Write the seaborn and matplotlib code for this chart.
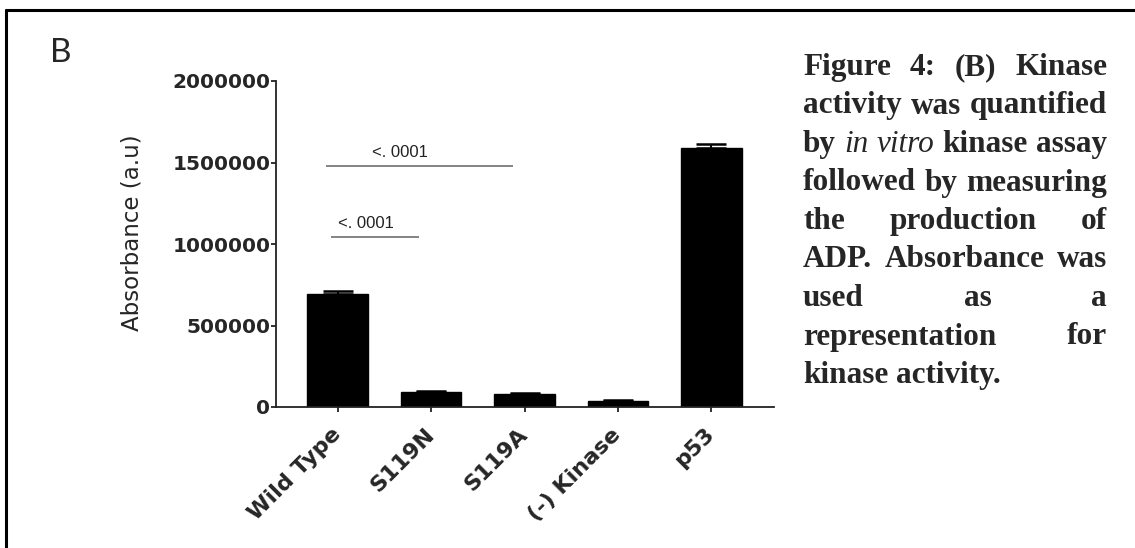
import numpy as np
import pandas as pd
import matplotlib
matplotlib.use("Agg")
import matplotlib.pyplot as plt
from matplotlib.lines import Line2D
import seaborn as sns

# values
samples = ["Wild Type", "S119N", "S119A", "(-) Kinase", "p53"]
absorbance = [693000, 90000, 81000, 36000, 1590000]
sem = [19000, 6000, 6000, 10000, 26000]

# significance bars: (left, right, height, label position, label)
sig_left = [-0.12, -0.07]
sig_right = [1.88, 0.87]
sig_height = [1480000, 1045000]
sig_text_x = [0.67, 0.30]
sig_label = ["<. 0001", "<. 0001"]

yticks = [0, 500000, 1000000, 1500000, 2000000]

caption = [
    [("Figure", "b"), ("4:", "b"), ("(B)", "b"), ("Kinase", "b")],
    [("activity", "b"), ("was", "b"), ("quantified", "b")],
    [("by", "b"), ("in", "i"), ("vitro", "i"), ("kinase", "b"), ("assay", "b")],
    [("followed", "b"), ("by", "b"), ("measuring", "b")],
    [("the", "b"), ("production", "b"), ("of", "b")],
    [("ADP.", "b"), ("Absorbance", "b"), ("was", "b")],
    [("used", "b"), ("as", "b"), ("a", "b")],
    [("representation", "b"), ("for", "b")],
    [("kinase", "b"), ("activity.", "b")],
]

df = pd.DataFrame({"sample": samples, "absorbance": absorbance, "sem": sem})

sns.set_style("ticks")
plt.rcParams["font.family"] = ["DejaVu Sans"]

W, H = 1135, 548
fig = plt.figure(figsize=(W / 100, H / 100), dpi=100)
ax = fig.add_axes([276 / W, 1 - 407 / H, (774 - 276) / W, (407 - 81) / H])

sns.barplot(data=df, x="sample", y="absorbance", color="black", saturation=1,
            width=0.65, errorbar=None, edgecolor="black", ax=ax)
ax.errorbar(np.arange(len(df)), df["absorbance"], yerr=[np.zeros(len(df)), df["sem"]],
            fmt="none", ecolor="black", elinewidth=1.5, capsize=11, capthick=1.8, zorder=1)

for x0, x1, y, tx, lab in zip(sig_left, sig_right, sig_height, sig_text_x, sig_label):
    ax.plot([x0, x1], [y, y], color="#7a7a7a", lw=1.3, solid_capstyle="butt")
    ax.text(tx, y + 55000, lab, ha="center", va="baseline",
            fontsize=12, family="Liberation Sans", color="#222222")

ax.set_xlim(-0.66, 4.67)
ax.set_ylim(0, 2000000)
ax.set_yticks(yticks)
ax.set_yticklabels([str(v) for v in yticks], fontsize=14.5, fontweight="bold")
ax.set_xticks(range(len(samples)))
ax.set_xticklabels(samples, fontsize=16, fontweight="bold", rotation=45,
                   ha="right", va="center", rotation_mode="anchor")
ax.set_xlabel("")
ax.set_ylabel("Absorbance (a.u)", fontsize=16.5)
ax.yaxis.set_label_coords(-0.267, 0.534)
ax.tick_params(axis="both", width=1.3, length=3.6, color="#222222")
ax.tick_params(axis="y", pad=0.5)
ax.tick_params(axis="x", pad=14)
for s in ["left", "bottom"]:
    ax.spines[s].set_linewidth(1.3)
    ax.spines[s].set_color("#222222")
sns.despine(ax=ax)

# panel letter
fig.text(50 / W, 1 - 38 / H, "B", fontsize=24, family="Lato", ha="left", va="top")

# figure frame (only top and left edges are visible in the crop)
fig.add_artist(Line2D([6 / W, 1.0], [1 - 10 / H, 1 - 10 / H], color="black", lw=2.2,
                      transform=fig.transFigure))
fig.add_artist(Line2D([6 / W, 6 / W], [1 - 10 / H, 0.0], color="black", lw=2.2,
                      transform=fig.transFigure))

# justified caption
renderer = fig.canvas.get_renderer()
cap_font = dict(family="Liberation Serif", fontsize=22.5)


def text_width(s, **kw):
    t = fig.text(0, 0, s, **kw)
    w = t.get_window_extent(renderer).width
    t.remove()
    return w


sp = (text_width("a a", fontweight="bold", **cap_font)
      - text_width("aa", fontweight="bold", **cap_font))

box_l, box_r = 803, 1107
base0, step = 75, 38.5
for i, line in enumerate(caption):
    texts = []
    for word, style in line:
        t = fig.text(0, 0, word,
                     fontweight="bold" if style == "b" else "normal",
                     fontstyle="italic" if style == "i" else "normal",
                     ha="left", va="baseline", **cap_font)
        texts.append(t)
    widths = [t.get_window_extent(renderer).width for t in texts]
    if i == len(caption) - 1 or len(texts) == 1:
        gap = sp
    else:
        gap = max(sp * 0.6, (box_r - box_l - sum(widths)) / (len(texts) - 1))
    x = box_l
    y = 1 - (base0 + step * i) / H
    for t, w in zip(texts, widths):
        t.set_position((x / W, y))
        x += w + gap

fig.savefig("out.png", dpi=100)
